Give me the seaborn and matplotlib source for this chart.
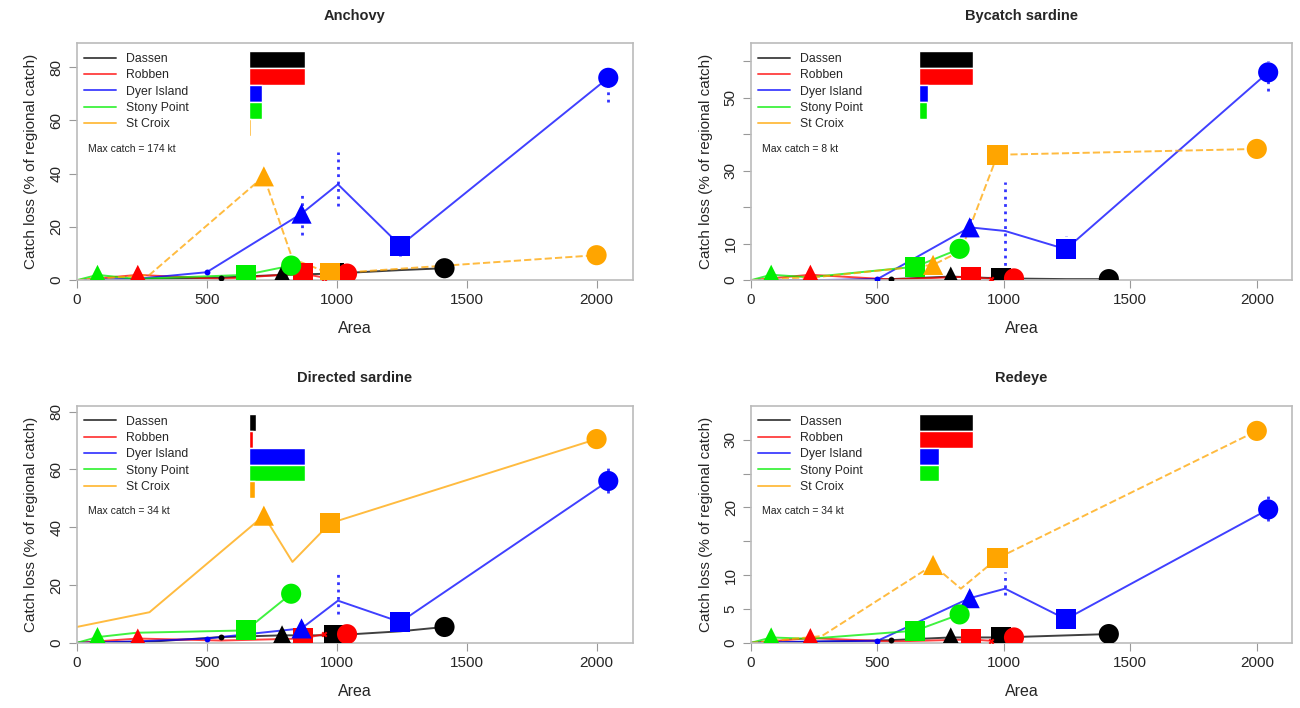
import numpy as np
import pandas as pd
import seaborn as sns
import matplotlib.pyplot as plt
from matplotlib.lines import Line2D

sns.set_theme(style="white")
plt.rcParams["font.family"] = ["Liberation Sans", "DejaVu Sans"]

colonies = ["Dassen", "Robben", "Dyer Island", "Stony Point", "St Croix"]
colours = ["black", "#ff0000", "#0000ff", "#00ee00", "#ffa500"]

# closure areas tested around each colony
dassen_area = [0, 300, 555, 790, 990, 1245, 1415]
robben_area = [0, 235, 555, 870, 950, 1040]
dyer_area = [0, 230, 500, 865, 1005, 1245, 2045]
stony_area = [0, 80, 230, 650, 825]
stcroix_area = [0, 280, 720, 830, 975, 2000]

# closure class of each area (drawn as marker shape)
dassen_cls = ["", "", "dot", "tri", "sq", "", "circ"]
robben_cls = ["", "tri", "", "sq", "cross", "circ"]
dyer_cls = ["", "", "dot", "tri", "", "sq", "circ"]
stony_cls = ["", "tri", "", "sq", "circ"]
stcroix_cls = ["", "", "tri", "", "sq", "circ"]

# catch loss (% of regional catch)
anchovy_dassen = [0, 0.5, 1, 2, 2.5, 3.8, 4.5]
anchovy_robben = [0, 2, 0.5, 2.5, 1, 2.5]
anchovy_dyer = [0, 0.5, 3, 25, 36, 13, 76]
anchovy_stony = [0, 2, 0.5, 2, 5.5]
anchovy_stcroix = [0, 2, 39, 8, 2.5, 9.4]

bycatch_dassen = [0, 0, 0.3, 1, 0.5, 0.3, 0.3]
bycatch_robben = [0, 1.5, 0.2, 1, 0.3, 0.5]
bycatch_dyer = [0, 0, 0.3, 14.5, 13.5, 8.5, 57]
bycatch_stony = [0, 1.5, 0.8, 3.7, 8.6]
bycatch_stcroix = [0, 1, 4.2, 8, 34.4, 36]

directed_dassen = [0, 0.5, 2, 2.6, 2.6, 4, 5.5]
directed_robben = [0, 1.5, 0.8, 1.5, 3, 3]
directed_dyer = [0, 0.5, 1.5, 5, 14.6, 7.2, 56]
directed_stony = [0, 2, 3.5, 4.3, 17]
directed_stcroix = [5.5, 10.6, 44, 28, 41.4, 70.5]

redeye_dassen = [0, 0.2, 0.4, 0.8, 0.8, 1.1, 1.3]
redeye_robben = [0, 0.7, 0.2, 0.5, 0.3, 0.8]
redeye_dyer = [0, 0.2, 0.3, 6.6, 8, 3.5, 19.7]
redeye_stony = [0, 0.8, 0.6, 1.8, 4.2]
redeye_stcroix = [0, 1, 11.5, 8, 12.5, 31.3]

# Dyer Island uncertainty (areas 865, 1005, 1245, 2045)
err_area = [865, 1005, 1245, 2045]
anchovy_lo = [17, 28, 9, 67]
anchovy_hi = [33, 48, 15, 80]
bycatch_lo = [12, 0, 8, 52]
bycatch_hi = [17, 27, 12, 60]
directed_lo = [4, 10, 6, 52]
directed_hi = [7, 24, 9, 62]
redeye_lo = [6, 7, 3, 18]
redeye_hi = [8, 10.5, 4.5, 22]

# relative share of catch near each colony (inset bars)
anchovy_share = [1.0, 1.0, 0.24, 0.23, 0.03]
bycatch_share = [1.0, 1.0, 0.18, 0.15, 0.03]
directed_share = [0.13, 0.07, 1.0, 1.0, 0.1]
redeye_share = [1.0, 1.0, 0.38, 0.38, 0.03]

max_catch = ["174", "8", "34", "34"]

areas = [dassen_area, robben_area, dyer_area, stony_area, stcroix_area]
classes = [dassen_cls, robben_cls, dyer_cls, stony_cls, stcroix_cls]
big = {"tri": "^", "sq": "s", "circ": "o"}
small = {"dot": "o", "cross": "X"}


def panel(ax, title, losses, lo, hi, share, catch, ylim, yticks, ylabels, dashed):
    for i, col in enumerate(colonies):
        df = pd.DataFrame({"area": areas[i], "loss": losses[i], "cls": classes[i]})
        ls = "--" if (col == "St Croix" and dashed) else "-"
        sns.lineplot(data=df, x="area", y="loss", ax=ax, color=colours[i],
                     linestyle=ls, lw=1.4, alpha=0.75, sort=False,
                     estimator=None, zorder=2)
        bg = df[df.cls.isin(big.keys())]
        sns.scatterplot(data=bg, x="area", y="loss", style="cls", markers=big,
                        color=colours[i], s=210, linewidth=0, legend=False,
                        ax=ax, zorder=3)
        sm = df[df.cls.isin(small.keys())]
        if len(sm):
            sns.scatterplot(data=sm, x="area", y="loss", style="cls",
                            markers=small, color=colours[i], s=18,
                            linewidth=0, legend=False, ax=ax, zorder=3)
    ax.vlines(err_area, lo, hi, colors="#0000ff", linestyles=":", lw=2,
              alpha=0.8, zorder=2)

    ax.set_xlim(0, 2140)
    ax.set_ylim(*ylim)
    ax.set_xticks([0, 500, 1000, 1500, 2000])
    ax.set_yticks(yticks)
    ax.set_yticklabels(ylabels, rotation=90, va="center")
    ax.tick_params(axis="both", labelsize=11, length=6, width=0.8,
                   color="#999999", direction="out", bottom=True, left=True)
    for s in ax.spines.values():
        s.set_color("#bbbbbb")
        s.set_linewidth(1.2)
    ax.set_title(title, fontsize=10.5, fontweight="bold", pad=17)
    ax.set_xlabel("Area", fontsize=11.5, labelpad=10)
    ax.set_ylabel("Catch loss (% of regional catch)", fontsize=11, labelpad=8)

    handles = [Line2D([], [], color=c, lw=1.4, alpha=0.7) for c in colours]
    ax.legend(handles, colonies, loc="upper left", frameon=False,
              fontsize=8.8, handlelength=2.6, labelspacing=0.36,
              borderaxespad=0.2, bbox_to_anchor=(0.0, 0.99))
    ax.text(0.02, 0.555, f"Max catch = {catch} kt", transform=ax.transAxes,
            fontsize=7.5, va="center", color="#222222")

    ins = ax.inset_axes([0.31, 0.61, 0.1, 0.355])
    sns.barplot(x=share, y=colonies, hue=colonies, palette=colours,
                orient="h", width=1, saturation=1, legend=False, ax=ins)
    ins.set_xlim(0, 1)
    ins.set_xticks([])
    ins.set_yticks([])
    ins.set_xlabel("")
    ins.set_ylabel("")
    ins.axis("off")


fig, axes = plt.subplots(2, 2, figsize=(13, 7.08), dpi=100,
                         gridspec_kw={"width_ratios": [556, 541]})
plt.subplots_adjust(left=0.059, right=0.994, top=0.939, bottom=0.092,
                    wspace=0.215, hspace=0.53)

panel(axes[0, 0], "Anchovy",
      [anchovy_dassen, anchovy_robben, anchovy_dyer, anchovy_stony, anchovy_stcroix],
      anchovy_lo, anchovy_hi, anchovy_share, max_catch[0], (0, 89),
      [0, 20, 40, 60, 80], ["0", "20", "40", "60", "80"], True)
panel(axes[0, 1], "Bycatch sardine",
      [bycatch_dassen, bycatch_robben, bycatch_dyer, bycatch_stony, bycatch_stcroix],
      bycatch_lo, bycatch_hi, bycatch_share, max_catch[1], (0, 65),
      [0, 10, 20, 30, 40, 50, 60], ["0", "10", "", "30", "", "50", ""], True)
panel(axes[1, 0], "Directed sardine",
      [directed_dassen, directed_robben, directed_dyer, directed_stony, directed_stcroix],
      directed_lo, directed_hi, directed_share, max_catch[2], (0, 82),
      [0, 20, 40, 60, 80], ["0", "20", "40", "60", "80"], False)
panel(axes[1, 1], "Redeye",
      [redeye_dassen, redeye_robben, redeye_dyer, redeye_stony, redeye_stcroix],
      redeye_lo, redeye_hi, redeye_share, max_catch[3], (0, 35),
      [0, 5, 10, 15, 20, 25, 30], ["0", "5", "10", "", "20", "", "30"], True)

fig.savefig("out.png", dpi=100)
